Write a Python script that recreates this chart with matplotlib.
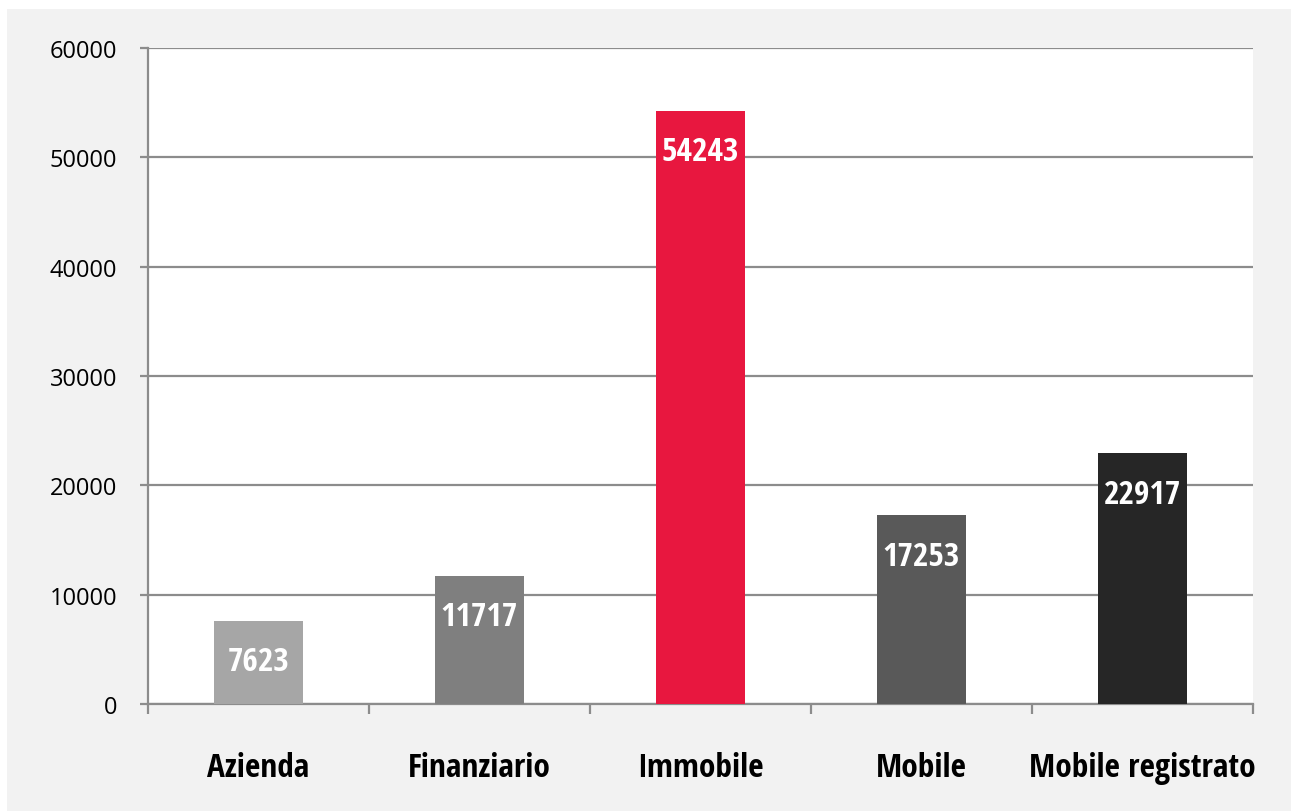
import matplotlib
matplotlib.use("Agg")
import matplotlib.pyplot as plt
from matplotlib.patches import Rectangle
import numpy as np

categories = ["Azienda", "Finanziario", "Immobile", "Mobile", "Mobile registrato"]
values = [7623, 11717, 54243, 17253, 22917]
colors = ["#a6a6a6", "#7f7f7f", "#e8173f", "#595959", "#262626"]
yticks = [0, 10000, 20000, 30000, 40000, 50000, 60000]

W, H = 1291, 812
fig = plt.figure(figsize=(W / 100, H / 100), dpi=100, facecolor="white")
fig.patches.append(Rectangle((7 / W, 0), 1 - 7 / W, 1 - 10 / H, transform=fig.transFigure,
                             facecolor="#f2f2f2", edgecolor="none", zorder=-10))

ax = fig.add_axes([148 / W, 1 - 705 / H, (1253 - 148) / W, (705 - 49) / H])
ax.set_facecolor("white")

x = np.arange(len(categories))
bars = ax.bar(x, values, width=0.4, color=colors, edgecolor="none", zorder=3)

cond = ["Open Sans Condensed", "Fira Sans Condensed", "DejaVu Sans"]
for xi, v in zip(x, values):
    ax.annotate(str(v), (xi, v), xytext=(0, -29.5), textcoords="offset points",
                ha="center", va="center", color="white", fontsize=24,
                family=cond, fontweight="semibold", fontstretch="condensed", zorder=4)

ax.set_xlim(-0.5, len(categories) - 0.5)
ax.set_ylim(0, 60000)
ax.set_yticks(yticks)
ax.set_yticklabels([str(t) for t in yticks], fontsize=17, family=["Open Sans", "DejaVu Sans"], color="black")
ax.yaxis.grid(True, color="#8c8c8c", linewidth=1.6, zorder=1)
ax.tick_params(axis="y", length=6, width=1.6, color="#8c8c8c", pad=16)

ax.set_xticks(x)
ax.set_xticklabels(categories, fontsize=24, family=cond, fontweight="bold", fontstretch="condensed")
ax.set_xticks(np.arange(-0.5, len(categories)), minor=True)
ax.tick_params(axis="x", which="major", length=0, pad=34)
ax.tick_params(axis="x", which="minor", length=7, width=1.6, color="#8c8c8c")

for s in ["top", "right"]:
    ax.spines[s].set_visible(False)
for s in ["left", "bottom"]:
    ax.spines[s].set_color("#8c8c8c")
    ax.spines[s].set_linewidth(1.6)

fig.savefig("out.png", dpi=100, facecolor=fig.get_facecolor())
